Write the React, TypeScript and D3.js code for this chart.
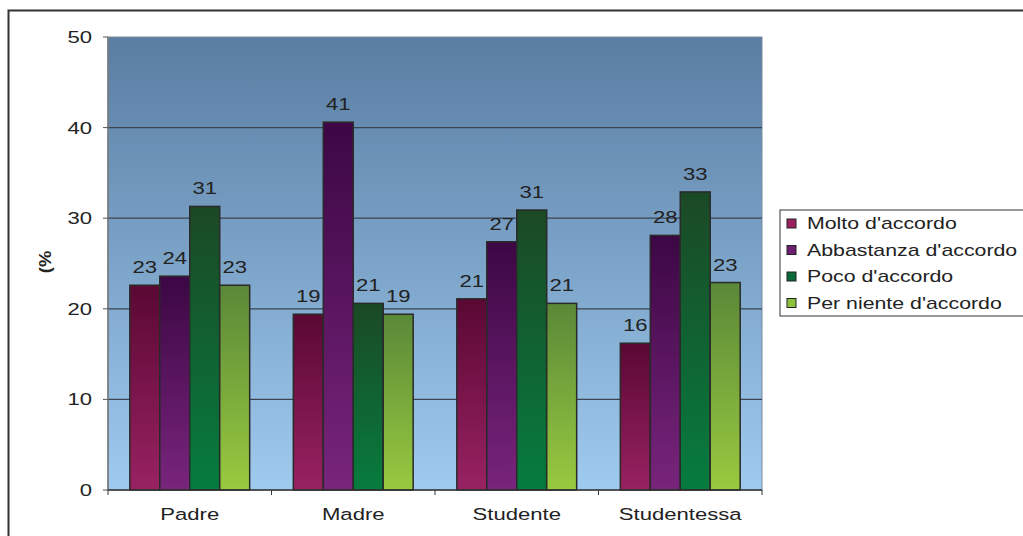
import React from "react";
import * as d3 from "d3";

const categories = ["Padre", "Madre", "Studente", "Studentessa"];
const seriesNames = ["Molto d'accordo", "Abbastanza d'accordo", "Poco d'accordo", "Per niente d'accordo"];
const molto = [22.6, 19.4, 21.1, 16.2];
const abbastanza = [23.6, 40.6, 27.4, 28.1];
const poco = [31.3, 20.6, 30.9, 32.9];
const perNiente = [22.6, 19.4, 20.6, 22.9];
const labelsMolto = ["23", "19", "21", "16"];
const labelsAbbastanza = ["24", "41", "27", "28"];
const labelsPoco = ["31", "21", "31", "33"];
const labelsPerNiente = ["23", "19", "21", "23"];
const yTicks = [0, 10, 20, 30, 40, 50];

const seriesValues = [molto, abbastanza, poco, perNiente];
const seriesLabels = [labelsMolto, labelsAbbastanza, labelsPoco, labelsPerNiente];
const gradTop = ["#5a0834", "#3c0744", "#1b4925", "#5a8838"];
const gradBottom = ["#982262", "#78257c", "#067c3f", "#98ca3f"];
const swatch = ["#9a2060", "#6e1e72", "#0a6a3a", "#8ec23e"];

const FS = 17;
const SX = 1.3;

function T({ x, y, anchor = "start", children, dy = "0", weight = "normal", sx = SX }: any) {
  return (
    <text
      transform={`translate(${x},${y}) scale(${sx},1)`}
      dy={dy}
      textAnchor={anchor}
      fontSize={FS}
      fontWeight={weight}
      fill="#222"
    >
      {children}
    </text>
  );
}

export default function App() {
  const left = 108, right = 762, top = 37, bottom = 490;
  const x0 = d3.scaleBand().domain(categories).range([left, right]).paddingInner(0.267).paddingOuter(0.1335);
  const x1 = d3.scaleBand().domain(seriesNames).range([0, x0.bandwidth()]);
  const y = d3.scaleLinear().domain([0, 50]).range([bottom, top]);
  const font = "'Liberation Sans', Arial, sans-serif";
  const catStep = (right - left) / categories.length;

  return (
    <svg width={1023} height={536} style={{ position: "absolute", left: 0, top: 0, background: "#fff" }} fontFamily={font}>
      <defs>
        <linearGradient id="bg" x1="0" y1="0" x2="0" y2="1">
          <stop offset="0" stopColor="#5a7da2" />
          <stop offset="1" stopColor="#9fcbef" />
        </linearGradient>
        {seriesNames.map((s, i) => (
          <linearGradient key={s} id={`g${i}`} x1="0" y1="0" x2="0" y2="1">
            <stop offset="0" stopColor={gradTop[i]} />
            <stop offset="1" stopColor={gradBottom[i]} />
          </linearGradient>
        ))}
      </defs>
      <rect x={8.5} y={10.5} width={1030} height={540} fill="none" stroke="#333" strokeWidth={2} />
      <rect x={left} y={top} width={right - left} height={bottom - top} fill="url(#bg)" stroke="#7a8a9a" strokeWidth={1} />
      {yTicks.filter((t) => t > 0 && t < 50).map((t) => (
        <line key={t} x1={left} x2={right} y1={y(t)} y2={y(t)} stroke="#3a4450" strokeWidth={1.2} />
      ))}
      <line x1={left} x2={left} y1={top} y2={bottom} stroke="#777" strokeWidth={1.5} />
      {yTicks.map((t) => (
        <g key={t}>
          <line x1={left - 5} x2={left} y1={y(t)} y2={y(t)} stroke="#555" />
          <T x={92} y={y(t)} dy="0.35em" anchor="end">{t}</T>
        </g>
      ))}
      {categories.map((c, ci) =>
        seriesNames.map((s, si) => {
          const v = seriesValues[si][ci];
          const bx = (x0(c) as number) + (x1(s) as number);
          return (
            <g key={c + s}>
              <rect x={bx} y={y(v)} width={x1.bandwidth()} height={bottom - y(v)} fill={`url(#g${si})`} stroke="#2a2a2a" strokeWidth={1.5} />
              <T x={bx + x1.bandwidth() / 2} y={y(v) - 12} anchor="middle">{seriesLabels[si][ci]}</T>
            </g>
          );
        })
      )}
      <line x1={left} x2={right} y1={bottom} y2={bottom} stroke="#333" strokeWidth={1.5} />
      {d3.range(categories.length + 1).map((i) => (
        <line key={i} x1={left + i * catStep} x2={left + i * catStep} y1={bottom} y2={bottom + 5} stroke="#333" />
      ))}
      {categories.map((c) => (
        <T key={c} x={(x0(c) as number) + x0.bandwidth() / 2} y={520} anchor="middle">{c}</T>
      ))}
      <text transform="translate(51,262) rotate(-90) scale(1.15,1)" textAnchor="middle" fontSize={16} fontWeight="bold" fill="#222">(%</text>
      <rect x={780} y={210} width={260} height={106} fill="#fff" stroke="#555" strokeWidth={1.2} />
      {seriesNames.map((s, i) => (
        <g key={s}>
          <rect x={787} y={219 + i * 26.5} width={9} height={9} fill={swatch[i]} stroke="#222" strokeWidth={1} />
          <T x={807} y={223.5 + i * 26.5} dy="0.35em" sx={1.255}>{s}</T>
        </g>
      ))}
    </svg>
  );
}
